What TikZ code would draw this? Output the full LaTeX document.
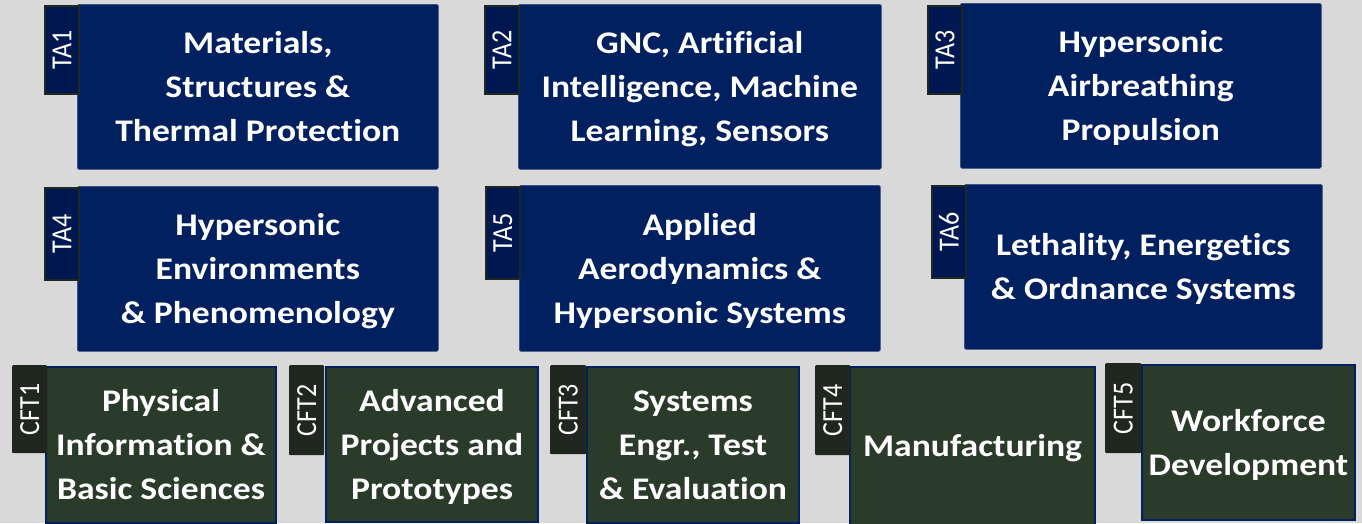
\documentclass[tikz,border=0pt]{standalone}
\usepackage{fontspec}
\setmainfont{Carlito}[Ligatures={NoCommon,TeX}]
\definecolor{bg}{HTML}{D9D9D9}
\definecolor{navy}{HTML}{002060}
\definecolor{tabnavy}{HTML}{001852}
\definecolor{tabline}{HTML}{1E281E}
\definecolor{cftfill}{HTML}{2B3B2A}
\definecolor{cfttab}{HTML}{1F271E}
\tikzset{
  tamain/.style={fill=navy, draw=navy!80!white, line width=0.6pt, rounded corners=1.5pt, anchor=north west, inner sep=0pt},
  tatab/.style={fill=tabnavy, draw=tabline, line width=2pt, anchor=north west, inner sep=0pt},
  cftmain/.style={fill=cftfill, draw=navy, line width=2pt, anchor=north west, inner sep=0pt},
  cfttabbox/.style={fill=cfttab, draw=none, anchor=north west, inner sep=0pt, rounded corners=1pt},
  maintxt/.style={text=white, align=center, inner sep=0pt, yshift=-2pt, font=\fontsize{31.5}{44}\selectfont\bfseries},
  lbl/.style={text=white, inner sep=0pt, font=\fontsize{26}{30}\selectfont},
}
\newcommand{\lblrot}[1]{\scalebox{1.12}[1]{\rotatebox{90}{#1}}}
\newcommand{\stretchtxt}[1]{\scalebox{1.13}[1]{\begin{tabular}{@{}c@{}}#1\end{tabular}}}
\begin{document}
\begin{tikzpicture}[x=1pt,y=-1pt]
\fill[bg] (0,0) rectangle (1362,523);
\useasboundingbox (0,0) rectangle (1362,523);
% Row 1
\node[tamain, minimum width=361, minimum height=165] (ta1) at (77,4) {};
\node[tatab, minimum width=34, minimum height=88] (ta1tab) at (44,5) {};
\node[lbl] (ta1l) at (ta1tab.center) {\lblrot{TA1}};
\node[maintxt] (ta1t) at (ta1.center) {\stretchtxt{Materials,\\Structures \&\\Thermal Protection}};

\node[tamain, minimum width=363, minimum height=165] (ta2) at (518,4) {};
\node[tatab, minimum width=34, minimum height=88] (ta2tab) at (484,5) {};
\node[lbl] (ta2l) at (ta2tab.center) {\lblrot{TA2}};
\node[maintxt] (ta2t) at (ta2.center) {\stretchtxt{GNC, Artificial\\Intelligence, Machine\\Learning, Sensors}};

\node[tamain, minimum width=361, minimum height=165] (ta3) at (960,3) {};
\node[tatab, minimum width=34, minimum height=88] (ta3tab) at (927,5) {};
\node[lbl] (ta3l) at (ta3tab.center) {\lblrot{TA3}};
\node[maintxt] (ta3t) at (ta3.center) {\stretchtxt{Hypersonic\\Airbreathing\\Propulsion}};

% Row 2
\node[tamain, minimum width=361, minimum height=165] (ta4) at (77,186) {};
\node[tatab, minimum width=34, minimum height=92] (ta4tab) at (44,187) {};
\node[lbl] (ta4l) at (ta4tab.center) {\lblrot{TA4}};
\node[maintxt] (ta4t) at (ta4.center) {\stretchtxt{Hypersonic\\Environments\\\& Phenomenology}};

\node[tamain, minimum width=361, minimum height=166] (ta5) at (519,185) {};
\node[tatab, minimum width=34, minimum height=92] (ta5tab) at (485,186) {};
\node[lbl] (ta5l) at (ta5tab.center) {\lblrot{TA5}};
\node[maintxt] (ta5t) at (ta5.center) {\stretchtxt{Applied\\Aerodynamics \&\\Hypersonic Systems}};

\node[tamain, minimum width=358, minimum height=165] (ta6) at (964,184) {};
\node[tatab, minimum width=34, minimum height=92] (ta6tab) at (931,185) {};
\node[lbl] (ta6l) at (ta6tab.center) {\lblrot{TA6}};
\node[maintxt] (ta6t) at (ta6.center) {\stretchtxt{Lethality, Energetics\\\& Ordnance Systems}};

% Row 3
\node[cftmain, minimum width=230, minimum height=156] (cft1) at (45,366) {};
\node[cfttabbox, minimum width=35, minimum height=88] (cft1tab) at (12,365) {};
\node[lbl] (cft1l) at (cft1tab.center) {\lblrot{CFT1}};
\node[maintxt] (cft1t) at (cft1.center) {\stretchtxt{Physical\\Information \&\\Basic Sciences}};

\node[cftmain, minimum width=212, minimum height=155] (cft2) at (325,366) {};
\node[cfttabbox, minimum width=35, minimum height=90] (cft2tab) at (289,365) {};
\node[lbl] (cft2l) at (cft2tab.center) {\lblrot{CFT2}};
\node[maintxt] (cft2t) at (cft2.center) {\stretchtxt{Advanced\\Projects and\\Prototypes}};

\node[cftmain, minimum width=212, minimum height=156] (cft3) at (586,366) {};
\node[cfttabbox, minimum width=36, minimum height=89] (cft3tab) at (550,365) {};
\node[lbl] (cft3l) at (cft3tab.center) {\lblrot{CFT3}};
\node[maintxt] (cft3t) at (cft3.center) {\stretchtxt{Systems\\Engr., Test\\\& Evaluation}};

\node[cftmain, minimum width=245, minimum height=158] (cft4) at (849,366) {};
\node[cfttabbox, minimum width=35, minimum height=90] (cft4tab) at (815,365) {};
\node[lbl] (cft4l) at (cft4tab.center) {\lblrot{CFT4}};
\node[maintxt] (cft4t) at (cft4.center) {\stretchtxt{Manufacturing}};

\node[cftmain, minimum width=213, minimum height=155] (cft5) at (1141,364) {};
\node[cfttabbox, minimum width=36, minimum height=90] (cft5tab) at (1105,363) {};
\node[lbl] (cft5l) at (cft5tab.center) {\lblrot{CFT5}};
\node[maintxt] (cft5t) at (cft5.center) {\stretchtxt{Workforce\\Development}};
\end{tikzpicture}
\end{document}
